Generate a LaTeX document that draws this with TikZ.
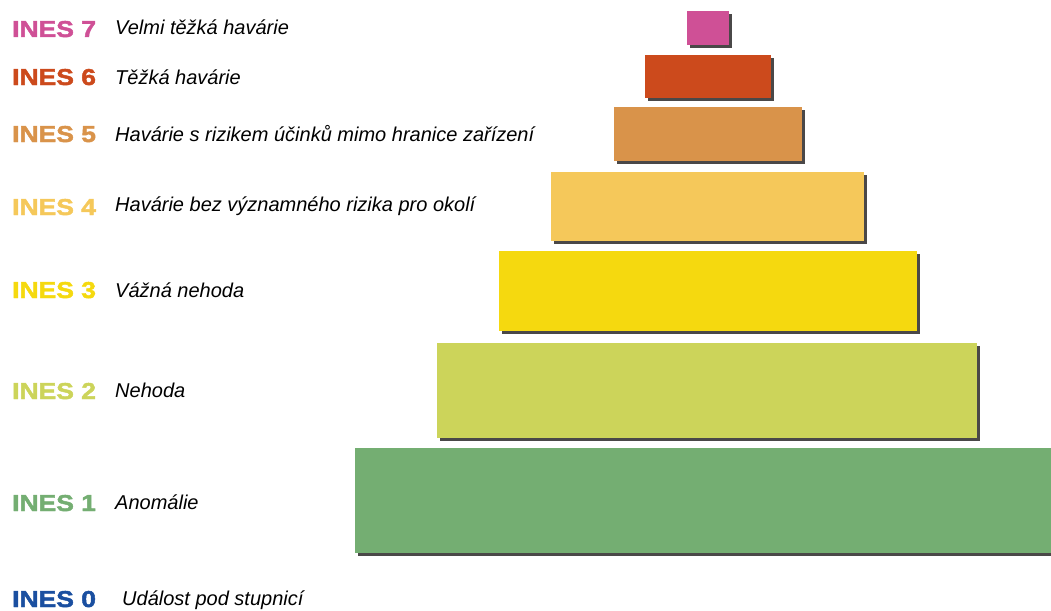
\documentclass[tikz,border=0pt]{standalone}
\usepackage{fontspec}
\setmainfont{Liberation Sans}
\newfontfamily\inesfont[FakeStretch=1.15,FakeBold=2]{Liberation Sans}

% level colours
\definecolor{ines7}{HTML}{CF5096}
\definecolor{ines6}{HTML}{CC4A1C}
\definecolor{ines5}{HTML}{D9934A}
\definecolor{ines4}{HTML}{F5C85A}
\definecolor{ines3}{HTML}{F5D90F}
\definecolor{ines2}{HTML}{CCD45A}
\definecolor{ines1}{HTML}{74AE72}
\definecolor{ines0}{HTML}{1A4FA0}
\definecolor{shadowgray}{HTML}{4A4848}

\tikzset{
  lvllabel/.style={anchor=base west, inner sep=0pt, text=#1,
    font=\inesfont\bfseries\fontsize{23}{25}\selectfont},
  lvltext/.style={anchor=base west, inner sep=0pt,
    font=\itshape\fontsize{20}{22}\selectfont},
}

\begin{document}
\begin{tikzpicture}[x=1pt, y=-1pt]
    \useasboundingbox (0,0) rectangle (1051,610);

    % Pyramid steps (shadow first, then the step)
    \foreach \col/\xa/\ya/\xb/\yb in {
        ines7/687/11/729/45,
        ines6/645/55/771/98,
        ines5/614/107/802/161,
        ines4/551/172/864/241,
        ines3/499/251/917/331,
        ines2/437/343/977/438,
        ines1/355/448/1051/553}
    {
        \fill[shadowgray] (\xa+3,\ya+3) rectangle (\xb+3,\yb+3);
        \fill[\col] (\xa,\ya) rectangle (\xb,\yb);
    }

    % Level labels
    \node[lvllabel=ines7] (l7) at (12,37) {INES 7};
    \node[lvllabel=ines6] (l6) at (12,85) {INES 6};
    \node[lvllabel=ines5] (l5) at (12,142) {INES 5};
    \node[lvllabel=ines4] (l4) at (12,215) {INES 4};
    \node[lvllabel=ines3] (l3) at (12,298) {INES 3};
    \node[lvllabel=ines2] (l2) at (12,399) {INES 2};
    \node[lvllabel=ines1] (l1) at (12,511) {INES 1};
    \node[lvllabel=ines0] (l0) at (12,607) {INES 0};

    % Descriptions
    \node[lvltext] (d7) at (115,35) {Velmi těžká havárie};
    \node[lvltext] (d6) at (115,84) {Těžká havárie};
    \node[lvltext] (d5) at (115,141) {Havárie s rizikem účinků mimo hranice zařízení};
    \node[lvltext] (d4) at (115,211) {Havárie bez významného rizika pro okolí};
    \node[lvltext] (d3) at (115,297) {Vážná nehoda};
    \node[lvltext] (d2) at (115,397) {Nehoda};
    \node[lvltext] (d1) at (115,509) {Anomálie};
    \node[lvltext] (d0) at (122,605) {Událost pod stupnicí};

\end{tikzpicture}
\end{document}
